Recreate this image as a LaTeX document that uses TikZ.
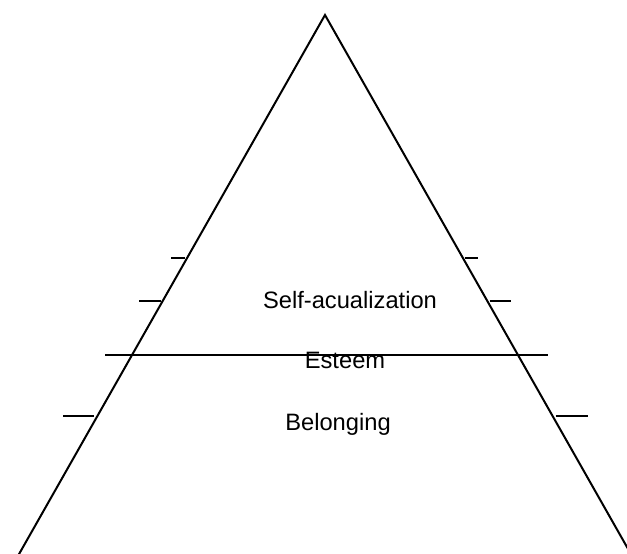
\documentclass[tikz,border=0pt]{standalone}
\usepackage{fontspec}
\setmainfont{Liberation Sans}
\usetikzlibrary{positioning}

\tikzset{
  side/.style={line width=2pt, line cap=butt},
  level/.style={font=\fontsize{23.7}{28}\selectfont, inner sep=0pt, anchor=base}
}

\begin{document}
\begin{tikzpicture}[x=1pt, y=-1pt]
      \useasboundingbox (0,0) rectangle (627,554);
      \clip (0,0) rectangle (627,554);

      % pyramid sides
      \draw[side] (10,570) -- (325,15) -- (640,570);

      % dividing line
      \draw[side] (105,355) -- (548,355);

      % ticks on the left side
      \draw[side] (171,258) -- (185.3,258);
      \draw[side] (139,301) -- (160.5,301);
      \draw[side] (63,416) -- (94.4,416);

      % ticks on the right side
      \draw[side] (464.7,258) -- (478,258);
      \draw[side] (489.5,301) -- (511,301);
      \draw[side] (555.6,416) -- (588,416);

      % labels
      \node[level] (selfact) at (350,308) {Self-acualization};
      \node[level] (esteem) at (345,368) {Esteem};
      \node[level] (belong) at (338,430) {Belonging};
    \end{tikzpicture}
\end{document}
